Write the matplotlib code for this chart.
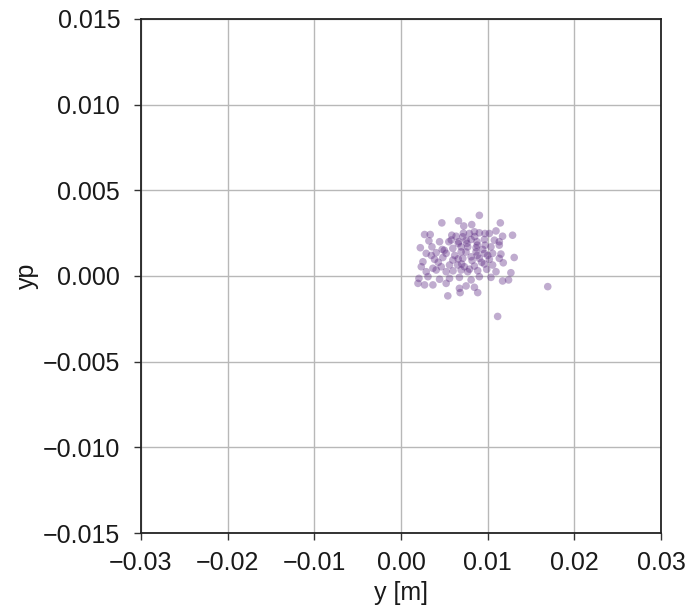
import matplotlib
matplotlib.use("Agg")
import matplotlib.pyplot as plt

# particle coordinates: transverse position y [m] and angle yp
y_pos = [
    0.00904, 0.00471, 0.00663, 0.00724, 0.00816, 0.01146, 0.00272, 0.00337,
    0.00586, 0.00636, 0.00713, 0.00789, 0.00847, 0.00904, 0.00969, 0.01019,
    0.01096, 0.01172, 0.01287, 0.00322, 0.00445, 0.00552, 0.00667, 0.00751,
    0.00809, 0.00877, 0.00962, 0.01077, 0.01134, 0.00223, 0.00357, 0.00475,
    0.00598, 0.00694, 0.00770, 0.00866, 0.00943, 0.01038, 0.01134, 0.00291,
    0.00406, 0.00521, 0.00694, 0.00866, 0.00962, 0.01057, 0.01153, 0.00253,
    0.00387, 0.00483, 0.00598, 0.00713, 0.00809, 0.00904, 0.01019, 0.01134,
    0.01306, 0.00234, 0.00368, 0.00464, 0.00560, 0.00655, 0.00732, 0.00847,
    0.00962, 0.01057, 0.01180, 0.00291, 0.00406, 0.00521, 0.00694, 0.00770,
    0.00885, 0.00989, 0.01096, 0.01268, 0.00207, 0.00311, 0.00445, 0.00560,
    0.00674, 0.00809, 0.00904, 0.01038, 0.01172, 0.01241, 0.00196, 0.00272,
    0.00368, 0.00521, 0.00674, 0.00751, 0.00847, 0.00540, 0.00682, 0.00885,
    0.01115, 0.01693,
    0.00620, 0.00750, 0.00820, 0.00880, 0.00660, 0.00580, 0.00700, 0.00790,
    0.00930, 0.00500, 0.00430, 0.00850, 0.00720, 0.00970, 0.00600, 0.01000,
    0.00350, 0.00760, 0.00880, 0.00660,
]
yp = [
    0.00354, 0.00310, 0.00322, 0.00292, 0.00300, 0.00310, 0.00242, 0.00242,
    0.00238, 0.00232, 0.00229, 0.00248, 0.00258, 0.00252, 0.00248, 0.00248,
    0.00263, 0.00232, 0.00238, 0.00205, 0.00200, 0.00200, 0.00200, 0.00209,
    0.00213, 0.00200, 0.00213, 0.00209, 0.00200, 0.00165, 0.00170, 0.00155,
    0.00161, 0.00170, 0.00170, 0.00165, 0.00155, 0.00170, 0.00180, 0.00132,
    0.00136, 0.00132, 0.00141, 0.00141, 0.00132, 0.00132, 0.00128, 0.00083,
    0.00097, 0.00108, 0.00093, 0.00103, 0.00112, 0.00103, 0.00097, 0.00103,
    0.00108, 0.00054, 0.00045, 0.00054, 0.00064, 0.00064, 0.00054, 0.00058,
    0.00070, 0.00064, 0.00077, 0.00025, 0.00035, 0.00025, 0.00035, 0.00025,
    0.00031, 0.00039, 0.00025, 0.00019, -0.00014, -0.00004, -0.00019, -0.00014,
    -0.00008, -0.00023, -0.00004, -0.00008, -0.00029, -0.00023, -0.00043, -0.00052,
    -0.00052, -0.00043, -0.00072, -0.00058, -0.00066, -0.00116, -0.00097, -0.00097,
    -0.00236, -0.00062,
    0.00120, 0.00140, 0.00090, 0.00180, 0.00190, 0.00210, 0.00070, 0.00040,
    0.00080, 0.00150, 0.00080, 0.00230, 0.00250, 0.00180, 0.00030, 0.00120,
    0.00120, 0.00190, 0.00120, 0.00100,
]

x_ticks = [-0.03, -0.02, -0.01, 0.00, 0.01, 0.02, 0.03]
y_ticks = [-0.015, -0.010, -0.005, 0.000, 0.005, 0.010, 0.015]

plt.rcParams['font.family'] = ['Liberation Sans', 'DejaVu Sans']
plt.rcParams['axes.unicode_minus'] = True

fig = plt.figure(figsize=(6.89, 6.10), dpi=100)
ax = fig.add_axes([0.2046, 0.1262, 0.7548, 0.8427])

ax.scatter(y_pos, yp, s=30, color='#5a2781', alpha=0.38,
           edgecolors='none', zorder=3)

ax.set_xlim(-0.03, 0.03)
ax.set_ylim(-0.015, 0.015)
ax.set_xticks(x_ticks)
ax.set_yticks(y_ticks)
ax.set_xticklabels([f"{v:.2f}".replace("-", "\u2212") for v in x_ticks])
ax.set_yticklabels([f"{v:.3f}".replace("-", "\u2212") for v in y_ticks])
ax.tick_params(labelsize=18, length=5, width=1, color='#333333',
               labelcolor='#1a1a1a')
ax.tick_params(axis='y', pad=10)
ax.tick_params(axis='x', pad=8)
ax.grid(True, color='#b8b8b8', linewidth=1)
ax.set_axisbelow(True)
for sp in ax.spines.values():
    sp.set_color('#222222')
    sp.set_linewidth(1.3)

ax.set_xlabel("y [m]", fontsize=18, labelpad=4, color='#1a1a1a')
ax.set_ylabel("yp", fontsize=18, labelpad=3, color='#1a1a1a')

fig.savefig("out.png", dpi=100)
